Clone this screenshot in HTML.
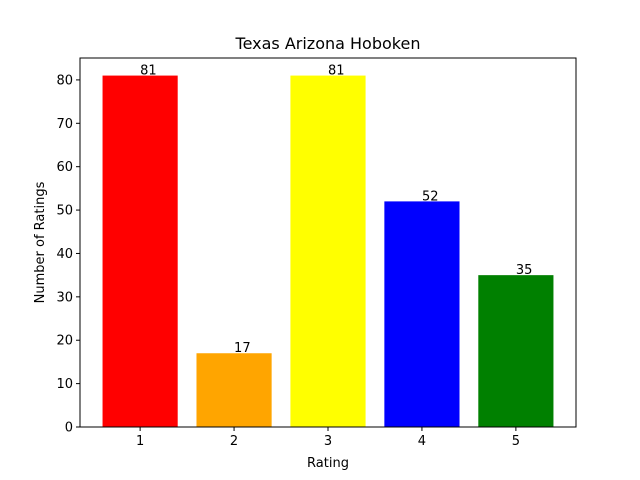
<!DOCTYPE html>
<html><head><meta charset="utf-8"><style>body{margin:0;background:#fff}svg{display:block;font-family:"DejaVu Sans","Liberation Sans",sans-serif}</style></head>
<body>
<svg id="chart" width="640" height="480"></svg>
<script>
const categories=[1,2,3,4,5];
const values=[81,17,81,52,35];
const colors=["red","orange","yellow","blue","green"];
const yTicks=[0,10,20,30,40,50,60,70,80];
const NS="http://www.w3.org/2000/svg";
const svg=document.getElementById('chart');
const L=80,R=576,T=58,B=427;
const xmin=0.36,xmax=5.64,ymax=Math.max(...values)*1.05;
const sx=v=>L+(v-xmin)/(xmax-xmin)*(R-L);
const sy=v=>B-v/ymax*(B-T);
function mk(tag,attrs,text){const e=document.createElementNS(NS,tag);for(const k in attrs)e.setAttribute(k,attrs[k]);if(text!==undefined)e.textContent=text;svg.appendChild(e);return e;}
categories.forEach((c,i)=>{
 const r=mk('rect',{x:sx(c-0.4),y:sy(values[i]),width:sx(c+0.4)-sx(c-0.4),height:B-sy(values[i]),fill:colors[i]});
 
 
 const t=mk('text',{x:sx(c),y:sy(values[i])-1,'font-size':13},values[i]);
 
 
 const tk=mk('line',{x1:sx(c),x2:sx(c),y1:B,y2:B+4,stroke:'#000'});
 
 
 const tl=mk('text',{x:sx(c),y:B+18,'font-size':13,'text-anchor':'middle'},c);
 
 
});
yTicks.forEach(v=>{
 const tk=mk('line',{x1:L-4,x2:L,y1:sy(v),y2:sy(v),stroke:'#000'});
 
 
 const tl=mk('text',{x:L-7,y:sy(v)+4.5,'font-size':13,'text-anchor':'end'},v);
 
 
});
const f=mk('rect',{x:L,y:T,width:R-L,height:B-T,fill:'none',stroke:'#000','stroke-width':1});


const ti=mk('text',{x:(L+R)/2,y:49,'font-size':16,'text-anchor':'middle'},'Texas Arizona Hoboken');


const xl=mk('text',{x:(L+R)/2,y:467,'font-size':13,'text-anchor':'middle'},'Rating');


const yl=mk('text',{x:44,y:(T+B)/2,'font-size':13,'text-anchor':'middle',transform:'rotate(-90 44 '+((T+B)/2)+')'},'Number of Ratings');


</script>
</body></html>
